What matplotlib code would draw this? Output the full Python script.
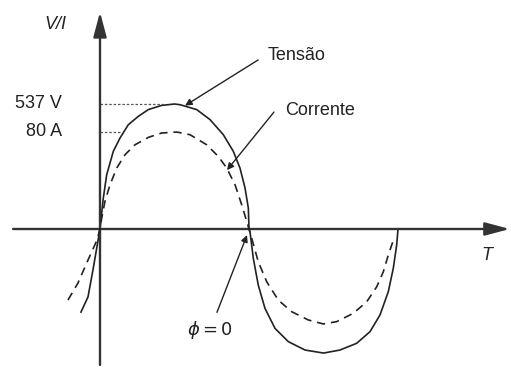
import numpy as np
import matplotlib.pyplot as plt

# tensão (V) e corrente (A), ângulo em graus
ang_v = [-23, -14.5, -8.5, 0, 4, 8.1, 16.1, 24.2, 34.2, 46.3, 58.4, 74.5, 90, 96.6,
         116.8, 132.9, 149, 161, 169.1, 175.2, 179.2, 180,
         181.2, 185.2, 191.2, 199.3, 211.4, 227.5, 247.7, 270, 289.9, 310.1, 326.2,
         338.3, 348.3, 354.3, 358.4, 360]
tensao = [-357, -292, -176, 0, 133, 233, 334, 391, 448, 484, 513, 531, 537, 534,
          513, 470, 405, 334, 262, 176, 90, 0,
          -12, -126, -241, -341, -427, -484, -520, -533, -520, -491, -441,
          -369, -269, -169, -69, 0]

ang_i = [-38.7, -26.6, -14.5, -3.6, 0, 2.1, 6, 12.1, 20.2, 30.2, 42.3, 58.4, 74.5, 92.7,
         108.7, 128.9, 142.9, 153.1, 163.1, 171.2, 177.2, 180,
         183.3, 191.2, 201.4, 215.4, 231.6, 251.6, 269.8, 285.9, 306, 322.2, 334.3,
         342.3, 348.3, 352.4, 355.2]
corrente = [-58.6, -44.5, -25.6, -9.1, 0, 9.1, 22.8, 36.5, 50.3, 61.3, 69.5, 75.6, 79.2, 80,
            77.8, 69.5, 59.9, 50.3, 36.5, 20, 6.4, 0,
            -7.7, -27, -43.5, -58.6, -68.2, -75, -78.3, -76.4, -69.5, -60, -47.6,
            -35.2, -21.4, -13.2, -7.4]

v_pico = 537
i_pico = 80

fig = plt.figure(figsize=(5.11, 3.67), dpi=100)
ax = fig.add_axes([0, 0, 1, 1])
ax2 = ax.twinx()
ax.set_xlim(-120.8, 496.5)
ax.set_ylim(-592.9, 983.8)
ax2.set_ylim(-113.8, 188.9)
for a in (ax, ax2):
    a.axis('off')

plt.rcParams['font.family'] = ['Liberation Sans', 'DejaVu Sans']
cor = '#222222'

ax.plot(ang_v, tensao, color=cor, lw=1.2, solid_joinstyle='round')
ax2.plot(ang_i, corrente, color=cor, lw=1.2, ls=(0, (5, 3.5)))

# eixos com setas
ax.annotate('', xy=(495, 0), xytext=(-105, 0),
            arrowprops=dict(arrowstyle='-|>,head_length=0.75,head_width=0.2',
                            mutation_scale=20, color='#333333', lw=1.7, shrinkA=0, shrinkB=0))
ax.annotate('', xy=(0, 932), xytext=(0, -584),
            arrowprops=dict(arrowstyle='-|>,head_length=0.75,head_width=0.2',
                            mutation_scale=20, color='#333333', lw=1.7, shrinkA=0, shrinkB=0))

# linhas de referência pontilhadas
ax.plot([0, 76], [v_pico, v_pico], color='#555555', lw=0.9, ls=(0, (2, 1.5)))
ax2.plot([0, 25], [i_pico, i_pico], color='#555555', lw=0.9, ls=(0, (2, 1.5)))

fs = 13
ax.text(-46, 541, f'{v_pico} V', ha='right', va='center', fontsize=fs, color=cor)
ax.text(-46, 417, f'{i_pico} A', ha='right', va='center', fontsize=fs, color=cor)
ax.text(-54, 880, 'V/I', ha='center', va='center', fontsize=fs, style='italic', color=cor)
ax.text(467, -116, 'T', ha='center', va='center', fontsize=fs, style='italic', color=cor)

seta = dict(arrowstyle='-|>,head_length=0.5,head_width=0.25', mutation_scale=8,
            color=cor, lw=1.0, shrinkA=6, shrinkB=0)
ax.annotate('Tensão', xy=(102.7, 530), xytext=(203, 745), ha='left', va='center',
            fontsize=fs, color=cor,
            arrowprops=dict(**seta, connectionstyle='angle,angleA=180,angleB=32,rad=0'))
ax.annotate('Corrente', xy=(153.4, 253), xytext=(223.5, 507), ha='left', va='center',
            fontsize=fs, color=cor,
            arrowprops=dict(**seta, connectionstyle='angle,angleA=180,angleB=51,rad=0'))
ax.annotate(r'$\phi = 0$', xy=(177.6, -26), xytext=(133, -434), ha='center', va='center',
            fontsize=fs, color=cor,
            arrowprops=dict(arrowstyle='-|>,head_length=0.5,head_width=0.25', mutation_scale=8,
                            color=cor, lw=1.0, shrinkA=3, shrinkB=0))

fig.savefig('out.png', dpi=100)
